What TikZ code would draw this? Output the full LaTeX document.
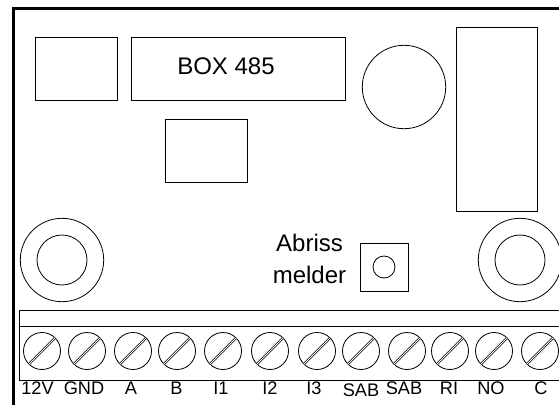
\documentclass[tikz,border=0pt]{standalone}
\usepackage{fontspec}
\setmainfont{Liberation Sans}
\tikzset{
  x=1pt,y=-1pt,
  part/.style={draw=black,line width=0.8pt,inner sep=0pt,outer sep=0pt,anchor=north west},
  round part/.style={draw=black,line width=0.8pt,circle,inner sep=0pt,outer sep=0pt},
  screw/.style={round part,minimum size=37pt},
  slot/.style={draw=black,line width=0.6pt,double=white,double distance=1pt},
  lbl/.style={inner sep=0pt,font=\fontsize{18.2}{18.2}\selectfont,text=black},
  biglbl/.style={inner sep=0pt,font=\fontsize{24}{24}\selectfont,text=black},
}
\begin{document}
\begin{tikzpicture}
\useasboundingbox (0,0) rectangle (559,405);
\fill[white] (0,0) rectangle (559,405);
% outer frame
\draw[line width=3pt,line join=miter] (13.5,405) -- (13.5,8) -- (559,8);
% top parts
\node[part,minimum width=82pt,minimum height=62.5pt] (b1) at (35.5,37.5) {};
\node[part,minimum width=214pt,minimum height=63.5pt] (box) at (131.5,37) {};
\node[biglbl] (boxt) at (226,66.5) {BOX 485};
\node[part,minimum width=82.5pt,minimum height=63pt] (b3) at (165,119) {};
\node[round part,minimum size=83.4pt] (c1) at (404,87) {};
\node[part,minimum width=81.7pt,minimum height=184pt] (tall) at (456,27) {};
% mounting holes
\node[round part,minimum size=83.4pt] (ml) at (62,260) {};
\node[round part,minimum size=50pt] (mli) at (62,260) {};
\node[round part,minimum size=83.4pt] (mr) at (520,260) {};
\node[round part,minimum size=50pt] (mri) at (520,260) {};
% tamper switch
\node[part,minimum width=48pt,minimum height=48pt] (sw) at (360,243) {};
\node[round part,minimum size=22pt] (swc) at (384,267) {};
\node[biglbl] (ab) at (309.5,243) {Abriss};
\node[biglbl] (me) at (309.5,275) {melder};
% terminal strip
\draw[line width=0.8pt] (559,310) -- (19.5,310) -- (19.5,380) -- (559,380);
\draw[line width=0.8pt] (19.5,326) -- (559,326);
% screws and labels
\foreach \n/\x/\lx/\ly/\t in {a/42/37.5/388/12V,b/87/84/388/GND,c/133/131/388/A,d/177/176.5/388/B,e/223/221/388/I1,f/270/270/388/I2,g/317/314/388/I3,h/361/361/390/SAB,i/407/404/388/SAB,j/450/449/388/RI,k/494/491/388/NO,l/540/541/388/C}{
  \node[screw] (s\n) at (\x,351) {};
  \draw[slot] (s\n.225) -- (s\n.45);
  \node[lbl] (t\n) at (\lx,\ly) {\t};
}
\end{tikzpicture}
\end{document}
